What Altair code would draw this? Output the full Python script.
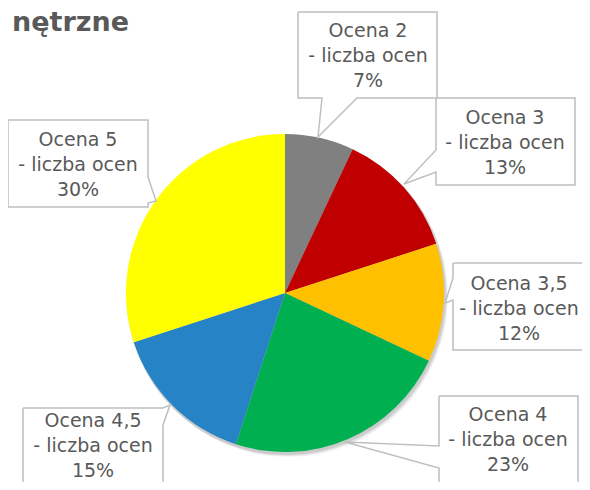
import altair as alt
import pandas as pd

# ---- data ----
categories = ["Ocena 2", "Ocena 3", "Ocena 3,5", "Ocena 4", "Ocena 4,5", "Ocena 5"]
shares = [7, 13, 12, 23, 15, 30]
slice_colors = ["#808080", "#C00000", "#FFC000", "#00B050", "#2683C6", "#FFFF00"]
sub_label = "- liczba ocen"
title_fragment = "nętrzne"

# ---- layout (page pixel coordinates) ----
PAGE_W, PAGE_H = 574, 474
boxes = {  # left, top, right, bottom
    "Ocena 2": (298, 12, 437, 98),
    "Ocena 3": (436, 98, 575, 185),
    "Ocena 3,5": (453, 263, 597, 350),
    "Ocena 4": (439, 396, 578, 483),
    "Ocena 4,5": (23, 408, 163, 495),
    "Ocena 5": (8, 120, 148, 207),
}
pointers = {  # side, base1, base2, apex x, apex y
    "Ocena 2": ("bottom", 322, 357, 318, 137),
    "Ocena 3": ("left", 150, 172, 404, 184),
    "Ocena 3,5": ("left", 278, 300, 445, 303),
    "Ocena 4": ("left", 446, 468, 345, 442),
    "Ocena 4,5": ("right", 408, 425, 170, 405),
    "Ocena 5": ("right", 177, 203, 156, 201),
}
# first text line centre (page px)
text_pos = {
    "Ocena 2": (368, 31),
    "Ocena 3": (505, 118),
    "Ocena 3,5": (519, 284),
    "Ocena 4": (508, 415),
    "Ocena 4,5": (93, 421),
    "Ocena 5": (78, 140),
}

# ---- tables ----
pie_df = pd.DataFrame({"category": categories, "share": shares,
                       "order": list(range(len(categories)))})

poly_rows, box_rows, text_rows = [], [], []
for cat, sh in zip(categories, shares):
    l, t, r, b = boxes[cat]
    side, b1, b2, ax, ay = pointers[cat]
    if side == "bottom":
        pts = [(l, t), (r, t), (r, b), (b2, b), (ax, ay), (b1, b), (l, b), (l, t)]
    elif side == "left":
        pts = [(l, t), (r, t), (r, b), (l, b), (l, b2), (ax, ay), (l, b1), (l, t)]
    else:
        pts = [(l, t), (r, t), (r, b1), (ax, ay), (r, b2), (r, b), (l, b), (l, t)]
    for i, (px, py) in enumerate(pts):
        poly_rows.append({"name": cat, "i": i, "x": px, "y": py})
    box_rows.append({"name": cat, "l": l, "t": t, "r": r, "b": b})
    cx, cy = text_pos[cat]
    text_rows.append({"name": cat, "cx": cx, "cy": cy,
                      "label": f"{cat}\n{sub_label}\n{sh}%"})

poly_df = pd.DataFrame(poly_rows)
box_df = pd.DataFrame(box_rows)
text_df = pd.DataFrame(text_rows)
title_df = pd.DataFrame({"x": [12], "y": [31], "t": [title_fragment]})

xs = alt.Scale(domain=[8, 8 + PAGE_W], range=[0, PAGE_W])
ys = alt.Scale(domain=[8, 8 + PAGE_H], range=[0, PAGE_H])

CX, CY, R = 285 - 8, 293 - 8, 159

one = pd.DataFrame({"s": [1]})
shadows = [
    alt.Chart(one).mark_arc(outerRadius=R + 1, theta=0, theta2=6.2832, color="#000000", opacity=op)
    .encode(x=alt.value(CX + dx), y=alt.value(CY + dy))
    for dx, dy, op in [(3, 4, 0.05), (2, 3, 0.07), (1, 2, 0.09)]
]

pie = alt.Chart(pie_df).mark_arc(outerRadius=R).encode(
    theta=alt.Theta("share:Q", stack=True),
    color=alt.Color("category:N", scale=alt.Scale(domain=categories, range=slice_colors), legend=None),
    order=alt.Order("order:Q"),
    x=alt.value(CX), y=alt.value(CY),
)

box_fill = alt.Chart(box_df).mark_rect(fill="white", strokeWidth=0).encode(
    x=alt.X("l:Q", scale=xs, axis=None), x2="r:Q",
    y=alt.Y("t:Q", scale=ys, axis=None), y2="b:Q",
)

outline = alt.Chart(poly_df).mark_line(color="#BFBFBF", strokeWidth=1.5, strokeJoin="miter").encode(
    x=alt.X("x:Q", scale=xs, axis=None),
    y=alt.Y("y:Q", scale=ys, axis=None),
    detail="name:N",
    order="i:Q",
)

labels = alt.Chart(text_df).mark_text(
    font="DejaVu Sans", fontSize=19, color="#595959", lineBreak="\n", lineHeight=25,
    align="center", baseline="middle",
).encode(
    x=alt.X("cx:Q", scale=xs, axis=None),
    y=alt.Y("cy:Q", scale=ys, axis=None),
    text="label:N",
)

title = alt.Chart(title_df).mark_text(
    font="DejaVu Sans", fontSize=27, fontWeight="bold", color="#595959",
    align="left", baseline="alphabetic",
).encode(
    x=alt.X("x:Q", scale=xs, axis=None),
    y=alt.Y("y:Q", scale=ys, axis=None),
    text="t:N",
)

chart = alt.layer(*shadows, pie, box_fill, outline, labels, title).properties(
    width=PAGE_W, height=PAGE_H, padding=0, background="white",
    autosize=alt.AutoSizeParams(type="none"),
).configure_view(strokeWidth=0, stroke=None)

chart.save("out.html", embed_options={"renderer": "svg", "actions": False})
